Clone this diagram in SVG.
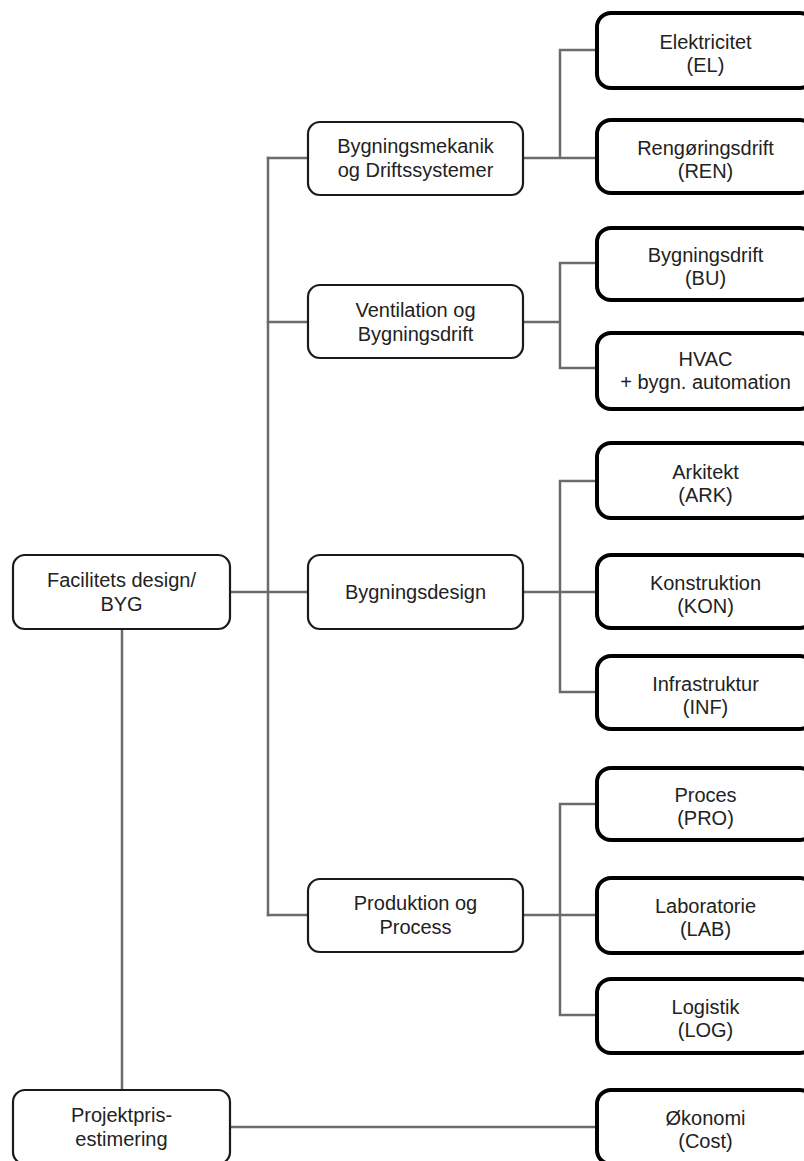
<svg xmlns="http://www.w3.org/2000/svg" width="804" height="1161" viewBox="0 0 804 1161">
  <style>
    .bg { fill: #ffffff; }
    .link { fill: none; stroke: #6b6b6b; stroke-width: 2.5; stroke-linecap: square; }
    .mid { fill: #ffffff; stroke: #1a1a1a; stroke-width: 2.2; }
    .leaf { fill: #ffffff; stroke: #000000; stroke-width: 4; }
    .lbl { font-family: "Liberation Sans", Arial, sans-serif; font-size: 20px; fill: #222222; text-anchor: middle; }
  </style>
  <rect class="bg" x="0" y="0" width="804" height="1161"/>

  <!-- connectors -->
  <g id="connectors">
    <path class="link" d="M230 592 H308"/>
    <path class="link" d="M268 158 V915"/>
    <path class="link" d="M268 158 H308 M268 322 H308 M268 915 H308"/>
    <path class="link" d="M523 158 H597 M560 158 V50 H597"/>
    <path class="link" d="M523 322 H560 M560 263 V368 M560 263 H597 M560 368 H597"/>
    <path class="link" d="M523 592 H597 M560 481 V692 M560 481 H597 M560 692 H597"/>
    <path class="link" d="M523 915 H597 M560 804 V1015 M560 804 H597 M560 1015 H597"/>
    <path class="link" d="M122 629 V1090"/>
    <path class="link" d="M230 1127 H597"/>
  </g>

  <!-- root and cost branch -->
  <g id="node-byg">
    <rect class="mid" x="13" y="555" width="217" height="74" rx="12"/>
    <text class="lbl" x="121.5" y="587">Facilitets design/</text>
    <text class="lbl" x="121.5" y="611">BYG</text>
  </g>
  <g id="node-pris">
    <rect class="mid" x="13" y="1090" width="217" height="74" rx="12"/>
    <text class="lbl" x="121.5" y="1122">Projektpris-</text>
    <text class="lbl" x="121.5" y="1146">estimering</text>
  </g>

  <!-- discipline groups -->
  <g id="node-mek">
    <rect class="mid" x="308" y="122" width="215" height="73" rx="12"/>
    <text class="lbl" x="415.5" y="153">Bygningsmekanik</text>
    <text class="lbl" x="415.5" y="177">og Driftssystemer</text>
  </g>
  <g id="node-vent">
    <rect class="mid" x="308" y="285" width="215" height="73" rx="12"/>
    <text class="lbl" x="415.5" y="317">Ventilation og</text>
    <text class="lbl" x="415.5" y="341">Bygningsdrift</text>
  </g>
  <g id="node-design">
    <rect class="mid" x="308" y="555" width="215" height="74" rx="12"/>
    <text class="lbl" x="415.5" y="599">Bygningsdesign</text>
  </g>
  <g id="node-prod">
    <rect class="mid" x="308" y="879" width="215" height="73" rx="12"/>
    <text class="lbl" x="415.5" y="910">Produktion og</text>
    <text class="lbl" x="415.5" y="934">Process</text>
  </g>

  <!-- disciplines -->
  <g id="node-el">
    <rect class="leaf" x="597" y="13" width="217" height="75" rx="14"/>
    <text class="lbl" x="705.5" y="49">Elektricitet</text>
    <text class="lbl" x="705.5" y="72">(EL)</text>
  </g>
  <g id="node-ren">
    <rect class="leaf" x="597" y="120" width="217" height="73" rx="14"/>
    <text class="lbl" x="705.5" y="155">Rengøringsdrift</text>
    <text class="lbl" x="705.5" y="178">(REN)</text>
  </g>
  <g id="node-bu">
    <rect class="leaf" x="597" y="228" width="217" height="72" rx="14"/>
    <text class="lbl" x="705.5" y="262">Bygningsdrift</text>
    <text class="lbl" x="705.5" y="285">(BU)</text>
  </g>
  <g id="node-hvac">
    <rect class="leaf" x="597" y="333" width="217" height="76" rx="14"/>
    <text class="lbl" x="705.5" y="366">HVAC</text>
    <text class="lbl" x="705.5" y="389">+ bygn. automation</text>
  </g>
  <g id="node-ark">
    <rect class="leaf" x="597" y="443" width="217" height="75" rx="14"/>
    <text class="lbl" x="705.5" y="479">Arkitekt</text>
    <text class="lbl" x="705.5" y="502">(ARK)</text>
  </g>
  <g id="node-kon">
    <rect class="leaf" x="597" y="555" width="217" height="73" rx="14"/>
    <text class="lbl" x="705.5" y="590">Konstruktion</text>
    <text class="lbl" x="705.5" y="613">(KON)</text>
  </g>
  <g id="node-inf">
    <rect class="leaf" x="597" y="656" width="217" height="73" rx="14"/>
    <text class="lbl" x="705.5" y="691">Infrastruktur</text>
    <text class="lbl" x="705.5" y="714">(INF)</text>
  </g>
  <g id="node-pro">
    <rect class="leaf" x="597" y="768" width="217" height="72" rx="14"/>
    <text class="lbl" x="705.5" y="802">Proces</text>
    <text class="lbl" x="705.5" y="825">(PRO)</text>
  </g>
  <g id="node-lab">
    <rect class="leaf" x="597" y="878" width="217" height="75" rx="14"/>
    <text class="lbl" x="705.5" y="913">Laboratorie</text>
    <text class="lbl" x="705.5" y="936">(LAB)</text>
  </g>
  <g id="node-log">
    <rect class="leaf" x="597" y="979" width="217" height="74" rx="14"/>
    <text class="lbl" x="705.5" y="1014">Logistik</text>
    <text class="lbl" x="705.5" y="1037">(LOG)</text>
  </g>
  <g id="node-cost">
    <rect class="leaf" x="597" y="1090" width="217" height="74" rx="14"/>
    <text class="lbl" x="705.5" y="1125">Økonomi</text>
    <text class="lbl" x="705.5" y="1148">(Cost)</text>
  </g>
</svg>
